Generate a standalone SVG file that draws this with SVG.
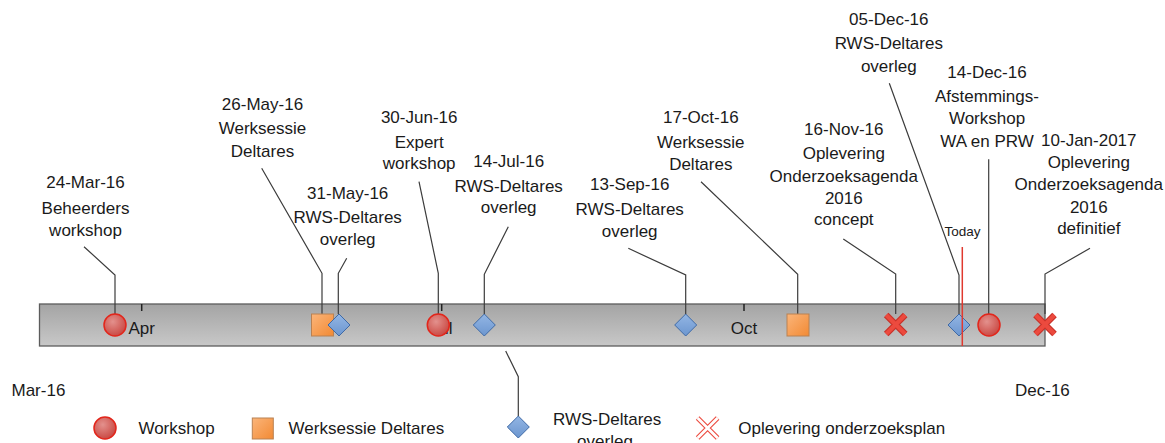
<svg xmlns="http://www.w3.org/2000/svg" width="1165" height="443" viewBox="0 0 1165 443">
<defs>
<linearGradient id="barG" x1="0" y1="0" x2="0" y2="1"><stop offset="0" stop-color="#a4a4a4"/><stop offset="1" stop-color="#c8c8c8"/></linearGradient>
<radialGradient id="cirG" cx="0.4" cy="0.35" r="0.7"><stop offset="0" stop-color="#e3918d"/><stop offset="1" stop-color="#c8453f"/></radialGradient>
<linearGradient id="sqG" x1="0" y1="0" x2="1" y2="1"><stop offset="0" stop-color="#fbb57a"/><stop offset="1" stop-color="#f28a34"/></linearGradient>
<linearGradient id="diaG" x1="0" y1="0" x2="0" y2="1"><stop offset="0" stop-color="#93b6e4"/><stop offset="1" stop-color="#6c96cf"/></linearGradient>
<symbol id="circ" overflow="visible"><circle cx="0" cy="0" r="11" fill="url(#cirG)" stroke="#e2261b" stroke-width="1.5"/></symbol>
<symbol id="sq" overflow="visible"><rect x="-11" y="-11" width="22" height="22" fill="url(#sqG)" stroke="#b98152" stroke-width="1"/></symbol>
<symbol id="dia" overflow="visible"><polygon points="0,-11 11,0 0,11 -11,0" fill="url(#diaG)" stroke="#3f6aa6" stroke-width="1"/></symbol>
<symbol id="xx" overflow="visible"><path d="M-9.5,-9.5 L9.5,9.5 M9.5,-9.5 L-9.5,9.5" stroke="#c8322a" stroke-width="6.5" fill="none"/><path d="M-9.5,-9.5 L9.5,9.5 M9.5,-9.5 L-9.5,9.5" stroke="#ec4a3e" stroke-width="4" fill="none"/></symbol>
</defs>
<style>
text{font-family:"Liberation Sans",Arial,sans-serif;font-size:17px;fill:#1a1a1a}
.lbl{text-anchor:middle}
.m{text-anchor:middle}
.today{font-size:13.5px}
.lead{fill:none;stroke:#3c3c3c;stroke-width:1.2}
.tick{stroke:#222;stroke-width:1.5}
</style>
<rect id="bar" x="39.5" y="304" width="1005.5" height="42" fill="url(#barG)" stroke="#5c5c5c" stroke-width="1.3"/>
<g id="ticks">
<line class="tick" x1="141.7" y1="304" x2="141.7" y2="311"/>
<line class="tick" x1="441.7" y1="304" x2="441.7" y2="311"/>
<line class="tick" x1="744" y1="304" x2="744" y2="311"/>
<text class="m" x="141.7" y="334">Apr</text>
<text class="m" x="441.7" y="334">Jul</text>
<text class="m" x="744" y="334">Oct</text>
</g>
<text x="11.5" y="396">Mar-16</text>
<text x="1015" y="396">Dec-16</text>
<g id="connectors">
<polyline class="lead" points="84,246.7 115,275 115,314"/>
<polyline class="lead" points="261.7,168.3 322,273.3 322,314"/>
<polyline class="lead" points="346.7,258.3 338.3,273.3 338.3,314"/>
<polyline class="lead" points="419,181.7 438.3,273.3 438.3,314"/>
<polyline class="lead" points="508.3,226.7 484.3,274.3 484.3,314"/>
<polyline class="lead" points="628.3,248.3 685.7,275 685.7,314"/>
<polyline class="lead" points="701,181.7 797.7,274.3 797.7,314"/>
<polyline class="lead" points="843.3,239 895.7,274 895.7,314"/>
<polyline class="lead" points="889.3,83.3 959,275 959,314"/>
<polyline class="lead" points="988.7,159.3 988.7,314"/>
<polyline class="lead" points="1090,248.3 1045,274 1045,314"/>
<polyline class="lead" points="505.7,351 518.3,376.7 518.3,416"/>
</g>
<g id="n1"><use href="#circ" x="115" y="325"/><text class="lbl" x="85.5" y="188.3">24-Mar-16</text><text class="lbl" x="85.5" y="214">Beheerders</text><text class="lbl" x="85.5" y="235.5">workshop</text></g>
<g id="n2"><use href="#sq" x="322.5" y="325"/><text class="lbl" x="262.5" y="110">26-May-16</text><text class="lbl" x="262.5" y="134">Werksessie</text><text class="lbl" x="262.5" y="156.7">Deltares</text></g>
<g id="n3"><use href="#dia" x="339" y="325"/><text class="lbl" x="347.7" y="199">31-May-16</text><text class="lbl" x="347.7" y="223.3">RWS-Deltares</text><text class="lbl" x="347.7" y="245">overleg</text></g>
<g id="n4"><use href="#circ" x="438.3" y="325"/><text class="lbl" x="419.2" y="123.3">30-Jun-16</text><text class="lbl" x="419.2" y="148.3">Expert</text><text class="lbl" x="419.2" y="169.3">workshop</text></g>
<g id="n5"><use href="#dia" x="484.3" y="325"/><text class="lbl" x="508.7" y="167.3">14-Jul-16</text><text class="lbl" x="508.7" y="192.3">RWS-Deltares</text><text class="lbl" x="508.7" y="213.3">overleg</text></g>
<g id="n6"><use href="#dia" x="685.7" y="325"/><text class="lbl" x="629.7" y="190">13-Sep-16</text><text class="lbl" x="629.7" y="215">RWS-Deltares</text><text class="lbl" x="629.7" y="236.7">overleg</text></g>
<g id="n7"><use href="#sq" x="798" y="325"/><text class="lbl" x="700.8" y="122.7">17-Oct-16</text><text class="lbl" x="700.8" y="147.7">Werksessie</text><text class="lbl" x="700.8" y="170">Deltares</text></g>
<g id="n8"><use href="#xx" x="895.7" y="324.5"/><text class="lbl" x="843.8" y="135">16-Nov-16</text><text class="lbl" x="843.8" y="159.3">Oplevering</text><text class="lbl" x="843.8" y="181.7">Onderzoeksagenda</text><text class="lbl" x="843.8" y="204">2016</text><text class="lbl" x="843.8" y="225">concept</text></g>
<g id="n9"><use href="#dia" x="959" y="325"/><text class="lbl" x="888.8" y="25">05-Dec-16</text><text class="lbl" x="888.8" y="49">RWS-Deltares</text><text class="lbl" x="888.8" y="71.7">overleg</text></g>
<g id="n10"><use href="#circ" x="989" y="325"/><text class="lbl" x="987" y="78.3">14-Dec-16</text><text class="lbl" x="987" y="102.3">Afstemmings-</text><text class="lbl" x="987" y="124">Workshop</text><text class="lbl" x="987" y="146.7">WA en PRW</text></g>
<g id="n11"><use href="#xx" x="1045" y="324.5"/><text class="lbl" x="1088.8" y="146">10-Jan-2017</text><text class="lbl" x="1088.8" y="168.3">Oplevering</text><text class="lbl" x="1088.8" y="190">Onderzoeksagenda</text><text class="lbl" x="1088.8" y="213.3">2016</text><text class="lbl" x="1088.8" y="234.3">definitief</text></g>
<g id="today"><line x1="962.3" y1="247" x2="962.3" y2="346" stroke="#e0392f" stroke-width="1.5"/><text class="m today" x="962.5" y="236">Today</text></g>
<g id="legend">
<use href="#circ" x="105" y="428"/><text x="138.4" y="434">Workshop</text>
<rect x="252.3" y="418" width="21" height="21" fill="url(#sqG)" stroke="#b98152" stroke-width="1"/><text x="288.6" y="434">Werksessie Deltares</text>
<use href="#dia" x="518.3" y="427"/><text x="553" y="425">RWS-Deltares</text><text class="m" x="605" y="447">overleg</text>
<g transform="translate(707.6,428)"><path d="M-10,-10 L10,10 M10,-10 L-10,10" stroke="#ec4a3e" stroke-width="5" fill="none"/><path d="M-10,-10 L10,10 M10,-10 L-10,10" stroke="#ffffff" stroke-width="2.8" fill="none"/></g>
<text x="738.3" y="434">Oplevering onderzoeksplan</text>
</g>
</svg>
